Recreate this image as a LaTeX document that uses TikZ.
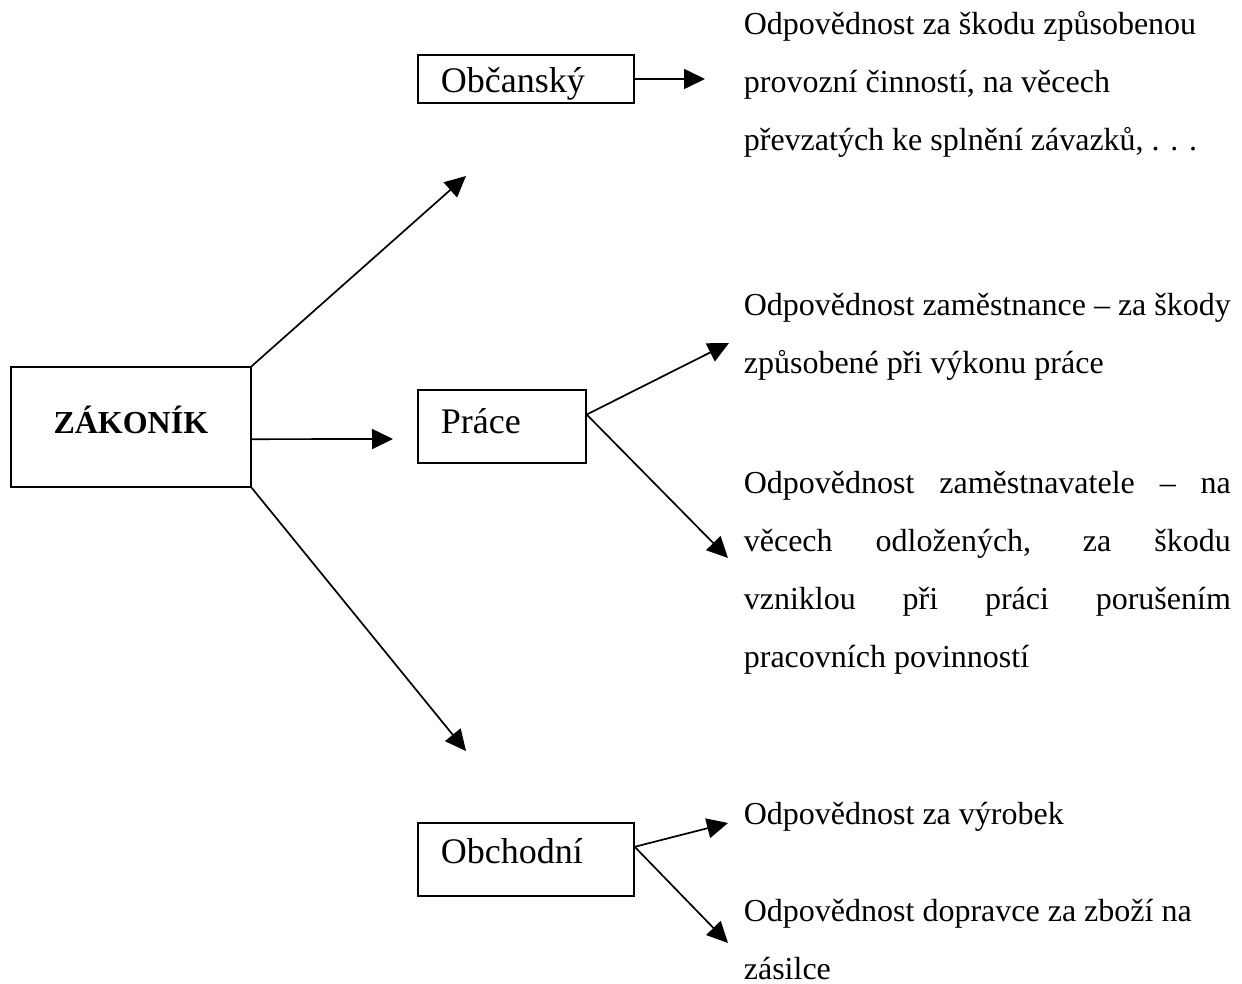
\documentclass[tikz,border=0pt]{standalone}
\usepackage{fontspec}
\setmainfont{Liberation Serif}
\usetikzlibrary{arrows.meta}
\usetikzlibrary{calc}

\begin{document}
\begin{tikzpicture}[x=1pt, y=-1pt, line width=1.7pt,
    sipka/.style={-{Triangle[length=21pt, width=20pt]}},
    ramecek/.style={draw, anchor=base west, inner xsep=23pt, inner ysep=0pt, align=left, font=\fontsize{36}{43}\selectfont},
    popis/.style={anchor=base west, inner sep=0pt, align=left, font=\fontsize{32}{58}\selectfont}]

      \useasboundingbox (0,0) rectangle (1242,984);

      \node[draw, anchor=base west, inner sep=0pt, text width=240pt, align=center, text height=66pt, text depth=54pt, font=\fontsize{32}{38}\selectfont\bfseries] (zakonik) at (10,433) {ZÁKONÍK};

      \node[ramecek, text width=170pt, text height=38pt, text depth=10pt] (obcansky) at (417,93) {Občanský};
      \node[ramecek, text width=122pt, text height=43pt, text depth=30pt] (prace) at (417,433) {Práce};
      \node[ramecek, text width=170pt, text height=40pt, text depth=33pt] (obchodni) at (417,863) {Obchodní};

      \coordinate (zk-o) at (466,176);
      \coordinate (zk-p) at (393,439);
      \coordinate (zk-b) at (466,751);
      \coordinate (ob-k) at (705,79);
      \coordinate (pr-h) at (729,343);
      \coordinate (pr-d) at (728,558);
      \coordinate (oc-h) at (728,823);
      \coordinate (oc-d) at (728,943);

      \draw[sipka] (zakonik.north east) -- (zk-o);
      \draw[sipka] ($(zakonik.north east)!0.6!(zakonik.south east)$) -- (zk-p);
      \draw[sipka] (zakonik.south east) -- (zk-b);
      \draw[sipka] (obcansky.east) -- (ob-k);
      \draw[sipka] ($(prace.north east)!0.34!(prace.south east)$) -- (pr-h);
      \draw[sipka] ($(prace.north east)!0.34!(prace.south east)$) -- (pr-d);
      \draw[sipka] ($(obchodni.north east)!0.33!(obchodni.south east)$) -- (oc-h);
      \draw[sipka] ($(obchodni.north east)!0.33!(obchodni.south east)$) -- (oc-d);

      \node[popis] (skoda-text) at (743,151) {Odpovědnost za škodu způsobenou\\provozní činností, na věcech\\převzatých ke splnění závazků, . . .};
      \node[popis] (zamestnanec-text) at (743,373) {Odpovědnost zaměstnance – za škody\\způsobené při výkonu práce};
      \node[popis, text width=487pt, align=justify] (zamestnavatel-text) at (743,493) {Odpovědnost zaměstnavatele – na\linebreak věcech odložených, za škodu\linebreak vzniklou při práci porušením\linebreak pracovních povinností};
      \node[popis] (vyrobek-text) at (743,824) {Odpovědnost za výrobek};
      \node[popis] (dopravce-text) at (743,979) {Odpovědnost dopravce za zboží na\\zásilce};
    \end{tikzpicture}
\end{document}
